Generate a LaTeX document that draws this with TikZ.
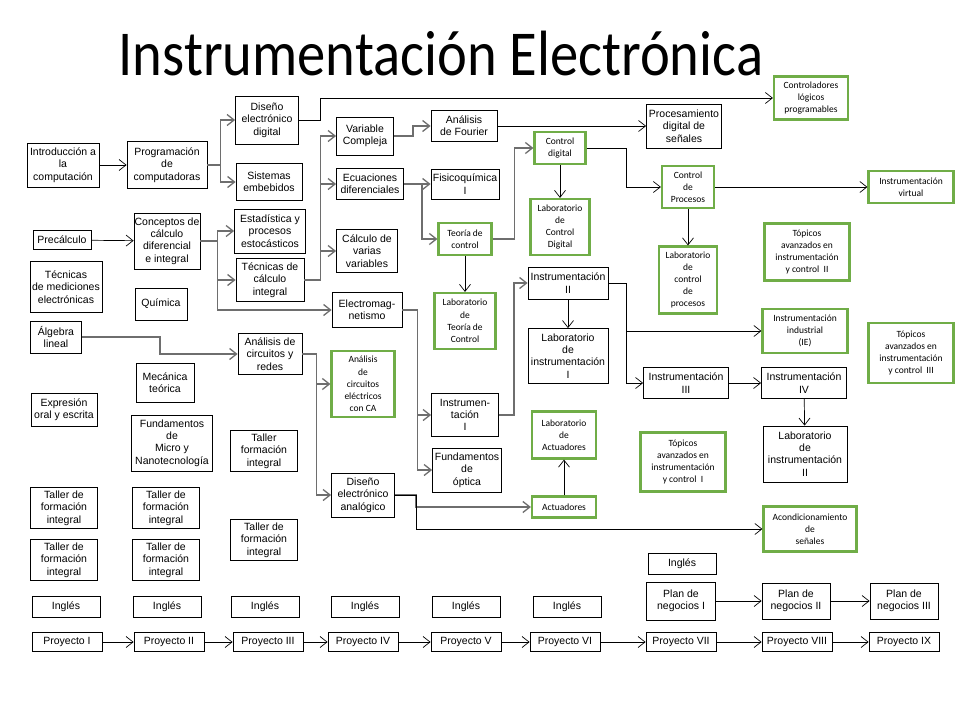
\documentclass[tikz,border=0pt]{standalone}
\usepackage{fontspec}
\setmainfont{Liberation Sans}
\newfontfamily\calib{Carlito}
\usetikzlibrary{arrows.meta}
\definecolor{boxgreen}{RGB}{112,173,71}
\definecolor{linegray}{RGB}{110,110,110}
\tikzset{
  box/.style={draw, line width=0.8pt, align=center, inner sep=0pt,
    font=\fontsize{10.5}{12.3}\selectfont},
  gbox/.style={draw=boxgreen, line width=2.2pt, align=center, inner sep=0pt,
    font=\calib\fontsize{9.5}{12.2}\selectfont},
  wh/.style 2 args={minimum width=#1, minimum height=#2},
  link/.style={draw, line width=0.7pt, -{Straight Barb[length=7pt,width=11pt]}},
  glink/.style={draw=linegray, line width=1.3pt, -{Straight Barb[length=7pt,width=11pt]}}
}
\begin{document}
\begin{tikzpicture}[x=1pt,y=-1pt]
  \useasboundingbox[fill=white] (0,0) rectangle (960,720);
  %title
  \node[font=\calib\fontsize{64}{64}\selectfont, anchor=base, inner sep=0pt] (title) at (441,75)
    {\scalebox{0.884}[1]{Instrumentación Electrónica}};
  %first semesters
  \node[box, wh={72}{44}] (intro) at (63,165) {Introducción a\\la\\computación};
  \node[box, wh={80}{47}] (prog) at (167,165) {Programación\\de\\computadoras};
  \node[box, wh={63}{48}] (dd) at (267,120) {Diseño\\electrónico\\digital};
  \node[box, wh={66}{37}] (se) at (269,182) {Sistemas\\embebidos};
  \node[box, wh={58}{19}] (prec) at (62,240) {Precálculo};
  \node[box, wh={66}{56}] (cdi) at (167,241) {Conceptos de\\cálculo\\diferencial\\e integral};
  \node[box, wh={71}{44}] (est) at (270,231) {Estadística y\\procesos\\estocásticos};
  \node[box, wh={68}{43}] (tci) at (270,280) {Técnicas de\\cálculo\\integral};
  \node[box, wh={72}{51}] (tme) at (66,287) {Técnicas\\de mediciones\\electrónicas};
  \node[box, wh={52}{32}] (qui) at (161,304) {Química};
  \node[box, wh={51}{32}] (al) at (56,337) {Álgebra\\lineal};
  \node[box, wh={64}{41}] (acr) at (270,354) {Análisis de\\circuitos y\\redes};
  \node[box, wh={58}{39}] (mec) at (165,383) {Mecánica\\teórica};
  \node[box, wh={66}{33}] (exp) at (64,410) {Expresión\\oral y escrita};
  \node[box, wh={81}{56}] (fmn) at (172,443) {Fundamentos\\de\\Micro y\\Nanotecnología};
  \node[box, wh={67}{41}] (tfi) at (264,451) {Taller\\formación\\integral};
  \foreach \x/\y/\n in {64/508/tf1, 166/508/tf2, 264/540/tf3, 64/560/tf4, 166/560/tf5}
    \node[box, wh={67}{41}] (\n) at (\x,\y) {Taller de\\formación\\integral};
  %middle
  \node[box, wh={57}{38}] (vc) at (365,136) {Variable\\Compleja};
  \node[box, wh={66}{31}] (fou) at (464,126) {Análisis\\de Fourier};
  \node[box, wh={67}{31}] (ecu) at (370,184) {Ecuaciones\\diferenciales};
  \node[box, wh={68}{30}] (fq) at (465,184) {Fisicoquímica\\I};
  \node[box, wh={61}{43}] (cvv) at (367,251) {Cálculo de\\varias\\variables};
  \node[box, wh={70}{35}] (em) at (367,310) {Electromag-\\netismo};
  \node[gbox, wh={63}{66}] (ca) at (363,384) {Análisis\\de\\circuitos\\eléctricos\\con CA};
  \node[box, wh={63}{44}] (dea) at (363,495) {Diseño\\electrónico\\analógico};
  \node[gbox, wh={53}{32}] (teo) at (465,239) {Teoría de\\control};
  \node[gbox, wh={61}{56}] (lteo) at (465,321) {Laboratorio\\de\\Teoría de\\Control};
  \node[box, wh={67}{43}] (i1) at (465,415) {Instrumen-\\tación\\I};
  \node[box, wh={69}{44}] (fo) at (467,470) {Fundamentos\\de\\óptica};
  \node[gbox, wh={51}{32}] (cd) at (560,148) {Control\\digital};
  \node[gbox, wh={59}{56}] (lcd) at (560,227) {Laboratorio\\de\\Control\\Digital};
  \node[box, wh={80}{32}] (i2) at (568,283) {Instrumentación\\II};
  \node[box, wh={80}{55}] (li1) at (568,356) {Laboratorio\\de\\instrumentación\\I};
  \node[gbox, wh={64}{47}] (lact) at (564,435) {Laboratorio\\de\\Actuadores};
  \node[gbox, wh={64}{21}] (act) at (564,507) {Actuadores};
  %right side
  \node[gbox, wh={74}{43}] (plc) at (811,98) {Controladores\\lógicos\\programables};
  \node[box, wh={75}{44}] (pds) at (684,126) {Procesamiento\\digital de\\señales};
  \node[gbox, wh={52}{42}] (cp) at (688,187) {Control\\de\\Procesos};
  \node[gbox, wh={85}{32}] (iv) at (911,187) {Instrumentación\\virtual};
  \node[gbox, wh={85}{57}] (tac2) at (807,252) {Tópicos\\avanzados en\\instrumentación\\y control\ \ II};
  \node[gbox, wh={58}{67}] (lcp) at (688,280) {Laboratorio\\de\\control\\de\\procesos};
  \node[gbox, wh={85}{44}] (ii) at (805,331) {Instrumentación\\industrial\\(IE)};
  \node[gbox, wh={85}{60}] (tac3) at (911,353) {Tópicos\\avanzados en\\instrumentación\\y control\ \ III};
  \node[box, wh={85}{31}] (i3) at (686,383) {Instrumentación\\III};
  \node[box, wh={85}{31}] (i4) at (804,383) {Instrumentación\\IV};
  \node[box, wh={84}{56}] (li2) at (805,454) {Laboratorio\\de\\instrumentación\\II};
  \node[gbox, wh={85}{59}] (tac1) at (683,462) {Tópicos\\avanzados en\\instrumentación\\y control\ \ I};
  \node[gbox, wh={93}{45}] (acs) at (810,529) {Acondicionamiento\\de\\señales};
  %bottom rows
  \foreach \x/\n in {66/ing1, 167/ing2, 265/ing3, 365/ing4, 466/ing5, 567/ing6}
    \node[box, wh={68}{21}] (\n) at (\x,607) {Inglés};
  \node[box, wh={68}{21}] (ing7) at (682,564) {Inglés};
  \node[box, wh={69}{38}] (pn1) at (681,601) {Plan de\\negocios I};
  \node[box, wh={68}{36}] (pn2) at (796,601) {Plan de\\negocios II};
  \node[box, wh={68}{36}] (pn3) at (904,601) {Plan de\\negocios III};
  \foreach \x/\n/\t in {67/p1/I, 169/p2/II, 268/p3/III, 363/p4/IV, 466/p5/V,
      565/p6/VI, 681/p7/VII, 797/p8/VIII, 904/p9/IX}
    \node[box, wh={70}{19}] (\n) at (\x,642) {Proyecto \t};
  %connectors
  \draw[link] (intro) -- (prog);
  \draw[glink] (prog.east) -- ++(13,0) |- (dd.west);
  \draw[glink] (prog.east) -- ++(13,0) |- (se.west);
  \draw[link] (dd.east) -- ++(21,0) |- (plc.west);
  \draw[link] (prec) -- (cdi);
  \foreach \n in {est,tci,em}
    \draw[glink] (cdi.east) -- ++(17,0) |- (\n.west);
  \foreach \n in {vc,ecu,cvv}
    \draw[glink] (tci.east) -- ++(16,0) |- (\n.west);
  \draw[glink] (vc.east) -- ++(19,0) |- (fou.west);
  \draw[link] (fou.east) -- (fou.east -| pds.west);
  \draw[glink] (ecu) -- (fq);
  \draw[glink] (ecu.east) -- ++(18,0) |- (teo.west);
  \draw[glink] (teo.east) -- ++(22,0) |- (cd.west);
  \draw[link] (teo) -- (lteo);
  \draw[link] (cd) -- (lcd);
  \draw[link] (cd.east) -- ++(40,0) |- (cp.west);
  \draw[link] (cp) -- (iv);
  \draw[link] (cp) -- (lcp);
  \draw[glink] (em.east) -- ++(15,0) |- (i1.west);
  \draw[glink] (em.east) -- ++(15,0) |- (fo.west);
  \draw[glink] (i1.east) -- ++(15,0) |- (i2.west);
  \draw[link] (i2) -- (li1);
  \draw[link] (i2.east) -- ++(18,0) |- (ii.west);
  \draw[link] (i2.east) -- ++(18,0) |- (i3.west);
  \draw[link] (i3) -- (i4);
  \draw[link] (i4) -- (li2);
  \draw[glink] (al.east) -- ++(78,0) |- (acr.west);
  \draw[glink] (acr.east) -- ++(14,0) |- (ca.west);
  \draw[glink] (acr.east) -- ++(14,0) |- (dea.west);
  \draw[glink] (dea.east) -- ++(21,0) |- (act.west);
  \draw[link] (dea.east) -- ++(21,0) |- (acs.west);
  \draw[link] (act) -- (lact);
  \foreach \a/\b in {pn1/pn2, pn2/pn3}
    \draw[link] (\a) -- (\b);
  \foreach \a/\b in {p1/p2, p2/p3, p3/p4, p4/p5, p5/p6, p6/p7, p7/p8, p8/p9}
    \draw[link] (\a) -- (\b);
\end{tikzpicture}
\end{document}
